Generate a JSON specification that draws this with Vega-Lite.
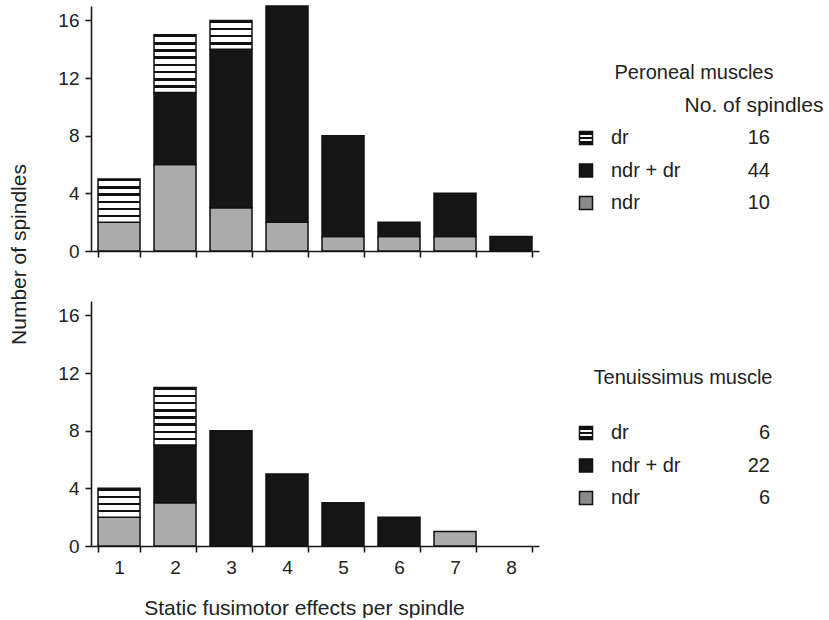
{
  "$schema": "https://vega.github.io/schema/vega-lite/v6.json",
  "padding": {"left": 8, "top": 5, "right": 0, "bottom": 0},
  "background": "white",
  "config": {
    "font": "Liberation Sans",
    "view": {"stroke": null},
    "axis": {
      "labelFont": "Liberation Sans", "titleFont": "Liberation Sans",
      "labelFontSize": 19, "titleFontSize": 21, "titleFontWeight": "normal",
      "labelColor": "#222", "titleColor": "#222",
      "domainColor": "#1a1a1a", "tickColor": "#1a1a1a",
      "domainWidth": 1.6, "tickWidth": 1.6, "tickSize": 6, "grid": false
    },
    "text": {"font": "Liberation Sans", "fontSize": 20, "color": "#222"}
  },
  "datasets": {
    "per": [
      {"effects": "1", "type": "ndr", "count": 2, "ord": 1},
      {"effects": "1", "type": "dr", "count": 3, "ord": 3},
      {"effects": "2", "type": "ndr", "count": 6, "ord": 1},
      {"effects": "2", "type": "ndr+dr", "count": 5, "ord": 2},
      {"effects": "2", "type": "dr", "count": 4, "ord": 3},
      {"effects": "3", "type": "ndr", "count": 3, "ord": 1},
      {"effects": "3", "type": "ndr+dr", "count": 11, "ord": 2},
      {"effects": "3", "type": "dr", "count": 2, "ord": 3},
      {"effects": "4", "type": "ndr", "count": 2, "ord": 1},
      {"effects": "4", "type": "ndr+dr", "count": 15, "ord": 2},
      {"effects": "5", "type": "ndr", "count": 1, "ord": 1},
      {"effects": "5", "type": "ndr+dr", "count": 7, "ord": 2},
      {"effects": "6", "type": "ndr", "count": 1, "ord": 1},
      {"effects": "6", "type": "ndr+dr", "count": 1, "ord": 2},
      {"effects": "7", "type": "ndr", "count": 1, "ord": 1},
      {"effects": "7", "type": "ndr+dr", "count": 3, "ord": 2},
      {"effects": "8", "type": "ndr+dr", "count": 1, "ord": 2}
    ],
    "ten": [
      {"effects": "1", "type": "ndr", "count": 2, "ord": 1},
      {"effects": "1", "type": "dr", "count": 2, "ord": 3},
      {"effects": "2", "type": "ndr", "count": 3, "ord": 1},
      {"effects": "2", "type": "ndr+dr", "count": 4, "ord": 2},
      {"effects": "2", "type": "dr", "count": 4, "ord": 3},
      {"effects": "3", "type": "ndr+dr", "count": 8, "ord": 2},
      {"effects": "4", "type": "ndr+dr", "count": 5, "ord": 2},
      {"effects": "5", "type": "ndr+dr", "count": 3, "ord": 2},
      {"effects": "6", "type": "ndr+dr", "count": 2, "ord": 2},
      {"effects": "7", "type": "ndr", "count": 1, "ord": 1}
    ],
    "legper": [
      {"type": "dr", "label": "dr", "n": 16},
      {"type": "ndr+dr", "label": "ndr + dr", "n": 44},
      {"type": "ndr", "label": "ndr", "n": 10}
    ],
    "legten": [
      {"type": "dr", "label": "dr", "n": 6},
      {"type": "ndr+dr", "label": "ndr + dr", "n": 22},
      {"type": "ndr", "label": "ndr", "n": 6}
    ]
  },
  "bounds": "flush",
  "spacing": 50,
  "vconcat": [
    {
      "width": 448, "height": 245,
      "resolve": {"scale": {"x": "independent", "y": "independent"}, "axis": {"x": "independent", "y": "independent"}},
      "layer": [
        {
          "data": {"name": "per"},
          "mark": {"type": "bar", "stroke": "#111", "strokeWidth": 1.5},
          "encoding": {
            "x": {"field": "effects", "type": "ordinal",
                  "scale": {"domain": ["1","2","3","4","5","6","7","8"], "paddingInner": 0.25, "paddingOuter": 0.125},
                  "axis": {"labels": false, "title": null, "tickBand": "extent"}},
            "y": {"field": "count", "type": "quantitative", "stack": "zero",
                  "scale": {"domain": [0, 17], "nice": false},
                  "axis": {"values": [0, 4, 8, 12, 16], "title": "Number of spindles", "titleY": 248, "titlePadding": 28, "labelPadding": 6}},
            "detail": {"field": "type"},
            "order": {"field": "ord", "type": "quantitative"},
            "fill": {
              "condition": [
                {"test": "datum.type === 'ndr'", "value": "#ababab"},
                {"test": "datum.type === 'dr' && datum.count === 2", "value": {"gradient": "linear", "x1": 0, "y1": 0, "x2": 0, "y2": 1, "stops": [
                  {"offset": 0, "color": "#111"}, {"offset": 0.0875, "color": "#111"}, {"offset": 0.0875, "color": "#fff"}, {"offset": 0.25, "color": "#fff"},
                  {"offset": 0.25, "color": "#111"}, {"offset": 0.3375, "color": "#111"}, {"offset": 0.3375, "color": "#fff"}, {"offset": 0.5, "color": "#fff"},
                  {"offset": 0.5, "color": "#111"}, {"offset": 0.5875, "color": "#111"}, {"offset": 0.5875, "color": "#fff"}, {"offset": 0.75, "color": "#fff"},
                  {"offset": 0.75, "color": "#111"}, {"offset": 0.8375, "color": "#111"}, {"offset": 0.8375, "color": "#fff"}, {"offset": 1, "color": "#fff"}]}},
                {"test": "datum.type === 'dr' && datum.count === 3", "value": {"gradient": "linear", "x1": 0, "y1": 0, "x2": 0, "y2": 1, "stops": [
                  {"offset": 0, "color": "#111"}, {"offset": 0.0583, "color": "#111"}, {"offset": 0.0583, "color": "#fff"}, {"offset": 0.1667, "color": "#fff"},
                  {"offset": 0.1667, "color": "#111"}, {"offset": 0.225, "color": "#111"}, {"offset": 0.225, "color": "#fff"}, {"offset": 0.3333, "color": "#fff"},
                  {"offset": 0.3333, "color": "#111"}, {"offset": 0.3917, "color": "#111"}, {"offset": 0.3917, "color": "#fff"}, {"offset": 0.5, "color": "#fff"},
                  {"offset": 0.5, "color": "#111"}, {"offset": 0.5583, "color": "#111"}, {"offset": 0.5583, "color": "#fff"}, {"offset": 0.6667, "color": "#fff"},
                  {"offset": 0.6667, "color": "#111"}, {"offset": 0.725, "color": "#111"}, {"offset": 0.725, "color": "#fff"}, {"offset": 0.8333, "color": "#fff"},
                  {"offset": 0.8333, "color": "#111"}, {"offset": 0.8917, "color": "#111"}, {"offset": 0.8917, "color": "#fff"}, {"offset": 1, "color": "#fff"}]}},
                {"test": "datum.type === 'dr' && datum.count === 4", "value": {"gradient": "linear", "x1": 0, "y1": 0, "x2": 0, "y2": 1, "stops": [
                  {"offset": 0, "color": "#111"}, {"offset": 0.04375, "color": "#111"}, {"offset": 0.04375, "color": "#fff"}, {"offset": 0.125, "color": "#fff"},
                  {"offset": 0.125, "color": "#111"}, {"offset": 0.16875, "color": "#111"}, {"offset": 0.16875, "color": "#fff"}, {"offset": 0.25, "color": "#fff"},
                  {"offset": 0.25, "color": "#111"}, {"offset": 0.29375, "color": "#111"}, {"offset": 0.29375, "color": "#fff"}, {"offset": 0.375, "color": "#fff"},
                  {"offset": 0.375, "color": "#111"}, {"offset": 0.41875, "color": "#111"}, {"offset": 0.41875, "color": "#fff"}, {"offset": 0.5, "color": "#fff"},
                  {"offset": 0.5, "color": "#111"}, {"offset": 0.54375, "color": "#111"}, {"offset": 0.54375, "color": "#fff"}, {"offset": 0.625, "color": "#fff"},
                  {"offset": 0.625, "color": "#111"}, {"offset": 0.66875, "color": "#111"}, {"offset": 0.66875, "color": "#fff"}, {"offset": 0.75, "color": "#fff"},
                  {"offset": 0.75, "color": "#111"}, {"offset": 0.79375, "color": "#111"}, {"offset": 0.79375, "color": "#fff"}, {"offset": 0.875, "color": "#fff"},
                  {"offset": 0.875, "color": "#111"}, {"offset": 0.91875, "color": "#111"}, {"offset": 0.91875, "color": "#fff"}, {"offset": 1, "color": "#fff"}]}}
              ],
              "value": "#161616"
            }
          }
        },
        {
          "data": {"name": "legper"},
          "encoding": {
            "x": {"datum": "sym", "type": "nominal", "scale": {"type": "point", "domain": ["sym", "label"], "range": [495, 520], "padding": 0}, "axis": null},
            "y": {"field": "type", "type": "nominal", "scale": {"type": "point", "domain": ["title", "hdr", "dr", "ndr+dr", "ndr"], "range": [67, 197], "padding": 0}, "axis": null}
          },
          "layer": [
            {
              "mark": {"type": "square", "size": 170, "stroke": "#111", "strokeWidth": 1.5, "opacity": 1},
              "encoding": {
                "fill": {
                  "condition": [
                    {"test": "datum.type === 'ndr'", "value": "#8a8a8a"},
                    {"test": "datum.type === 'dr'", "value": {"gradient": "linear", "x1": 0, "y1": 0, "x2": 0, "y2": 1, "stops": [
                      {"offset": 0, "color": "#111"}, {"offset": 0.28, "color": "#111"}, {"offset": 0.28, "color": "#fff"}, {"offset": 0.44, "color": "#fff"},
                      {"offset": 0.44, "color": "#111"}, {"offset": 0.56, "color": "#111"}, {"offset": 0.56, "color": "#fff"}, {"offset": 0.72, "color": "#fff"},
                      {"offset": 0.72, "color": "#111"}, {"offset": 1, "color": "#111"}]}}
                  ],
                  "value": "#161616"
                }
              }
            },
            {
              "mark": {"type": "text", "align": "left", "baseline": "middle"},
              "encoding": {
                "x": {"datum": "label", "type": "nominal"},
                "text": {"field": "label"}
              }
            },
            {
              "mark": {"type": "text", "align": "right", "baseline": "middle", "dx": 159},
              "encoding": {
                "x": {"datum": "label", "type": "nominal"},
                "text": {"field": "n"}
              }
            },
            {
              "data": {"values": [{"type": "title", "t": "Peroneal muscles"}]},
              "mark": {"type": "text", "align": "center", "baseline": "middle", "dx": 83},
              "encoding": {
                "x": {"datum": "label", "type": "nominal"},
                "text": {"field": "t"}
              }
            },
            {
              "data": {"values": [{"type": "hdr", "t": "No. of spindles"}]},
              "mark": {"type": "text", "align": "center", "baseline": "middle", "fontSize": 21, "dx": 143},
              "encoding": {
                "x": {"datum": "label", "type": "nominal"},
                "text": {"field": "t"}
              }
            }
          ]
        }
      ]
    },
    {
      "width": 448, "height": 245,
      "resolve": {"scale": {"x": "independent", "y": "independent"}, "axis": {"x": "independent", "y": "independent"}},
      "layer": [
        {
          "data": {"name": "ten"},
          "mark": {"type": "bar", "stroke": "#111", "strokeWidth": 1.5},
          "encoding": {
            "x": {"field": "effects", "type": "ordinal",
                  "scale": {"domain": ["1","2","3","4","5","6","7","8"], "paddingInner": 0.25, "paddingOuter": 0.125},
                  "axis": {"labelAngle": 0, "title": "Static fusimotor effects per spindle", "tickBand": "extent", "labelPadding": 6, "titlePadding": 20, "titleX": 213}},
            "y": {"field": "count", "type": "quantitative", "stack": "zero",
                  "scale": {"domain": [0, 17], "nice": false},
                  "axis": {"values": [0, 4, 8, 12, 16], "title": null, "labelPadding": 6}},
            "detail": {"field": "type"},
            "order": {"field": "ord", "type": "quantitative"},
            "fill": {
              "condition": [
                {"test": "datum.type === 'ndr'", "value": "#ababab"},
                {"test": "datum.type === 'dr' && datum.count === 2", "value": {"gradient": "linear", "x1": 0, "y1": 0, "x2": 0, "y2": 1, "stops": [
                  {"offset": 0, "color": "#111"}, {"offset": 0.0875, "color": "#111"}, {"offset": 0.0875, "color": "#fff"}, {"offset": 0.25, "color": "#fff"},
                  {"offset": 0.25, "color": "#111"}, {"offset": 0.3375, "color": "#111"}, {"offset": 0.3375, "color": "#fff"}, {"offset": 0.5, "color": "#fff"},
                  {"offset": 0.5, "color": "#111"}, {"offset": 0.5875, "color": "#111"}, {"offset": 0.5875, "color": "#fff"}, {"offset": 0.75, "color": "#fff"},
                  {"offset": 0.75, "color": "#111"}, {"offset": 0.8375, "color": "#111"}, {"offset": 0.8375, "color": "#fff"}, {"offset": 1, "color": "#fff"}]}},
                {"test": "datum.type === 'dr' && datum.count === 4", "value": {"gradient": "linear", "x1": 0, "y1": 0, "x2": 0, "y2": 1, "stops": [
                  {"offset": 0, "color": "#111"}, {"offset": 0.04375, "color": "#111"}, {"offset": 0.04375, "color": "#fff"}, {"offset": 0.125, "color": "#fff"},
                  {"offset": 0.125, "color": "#111"}, {"offset": 0.16875, "color": "#111"}, {"offset": 0.16875, "color": "#fff"}, {"offset": 0.25, "color": "#fff"},
                  {"offset": 0.25, "color": "#111"}, {"offset": 0.29375, "color": "#111"}, {"offset": 0.29375, "color": "#fff"}, {"offset": 0.375, "color": "#fff"},
                  {"offset": 0.375, "color": "#111"}, {"offset": 0.41875, "color": "#111"}, {"offset": 0.41875, "color": "#fff"}, {"offset": 0.5, "color": "#fff"},
                  {"offset": 0.5, "color": "#111"}, {"offset": 0.54375, "color": "#111"}, {"offset": 0.54375, "color": "#fff"}, {"offset": 0.625, "color": "#fff"},
                  {"offset": 0.625, "color": "#111"}, {"offset": 0.66875, "color": "#111"}, {"offset": 0.66875, "color": "#fff"}, {"offset": 0.75, "color": "#fff"},
                  {"offset": 0.75, "color": "#111"}, {"offset": 0.79375, "color": "#111"}, {"offset": 0.79375, "color": "#fff"}, {"offset": 0.875, "color": "#fff"},
                  {"offset": 0.875, "color": "#111"}, {"offset": 0.91875, "color": "#111"}, {"offset": 0.91875, "color": "#fff"}, {"offset": 1, "color": "#fff"}]}}
              ],
              "value": "#161616"
            }
          }
        },
        {
          "data": {"name": "legten"},
          "encoding": {
            "x": {"datum": "sym", "type": "nominal", "scale": {"type": "point", "domain": ["sym", "label"], "range": [495, 520], "padding": 0}, "axis": null},
            "y": {"field": "type", "type": "nominal", "scale": {"type": "point", "domain": ["title", "hdr", "dr", "ndr+dr", "ndr"], "range": [67, 197], "padding": 0}, "axis": null}
          },
          "layer": [
            {
              "mark": {"type": "square", "size": 170, "stroke": "#111", "strokeWidth": 1.5, "opacity": 1},
              "encoding": {
                "fill": {
                  "condition": [
                    {"test": "datum.type === 'ndr'", "value": "#8a8a8a"},
                    {"test": "datum.type === 'dr'", "value": {"gradient": "linear", "x1": 0, "y1": 0, "x2": 0, "y2": 1, "stops": [
                      {"offset": 0, "color": "#111"}, {"offset": 0.28, "color": "#111"}, {"offset": 0.28, "color": "#fff"}, {"offset": 0.44, "color": "#fff"},
                      {"offset": 0.44, "color": "#111"}, {"offset": 0.56, "color": "#111"}, {"offset": 0.56, "color": "#fff"}, {"offset": 0.72, "color": "#fff"},
                      {"offset": 0.72, "color": "#111"}, {"offset": 1, "color": "#111"}]}}
                  ],
                  "value": "#161616"
                }
              }
            },
            {
              "mark": {"type": "text", "align": "left", "baseline": "middle"},
              "encoding": {
                "x": {"datum": "label", "type": "nominal"},
                "text": {"field": "label"}
              }
            },
            {
              "mark": {"type": "text", "align": "right", "baseline": "middle", "dx": 159},
              "encoding": {
                "x": {"datum": "label", "type": "nominal"},
                "text": {"field": "n"}
              }
            },
            {
              "data": {"values": [{"type": "title", "t": "Tenuissimus muscle"}]},
              "mark": {"type": "text", "align": "center", "baseline": "middle", "dx": 72, "dy": 10},
              "encoding": {
                "x": {"datum": "label", "type": "nominal"},
                "text": {"field": "t"}
              }
            }
          ]
        }
      ]
    }
  ]
}
